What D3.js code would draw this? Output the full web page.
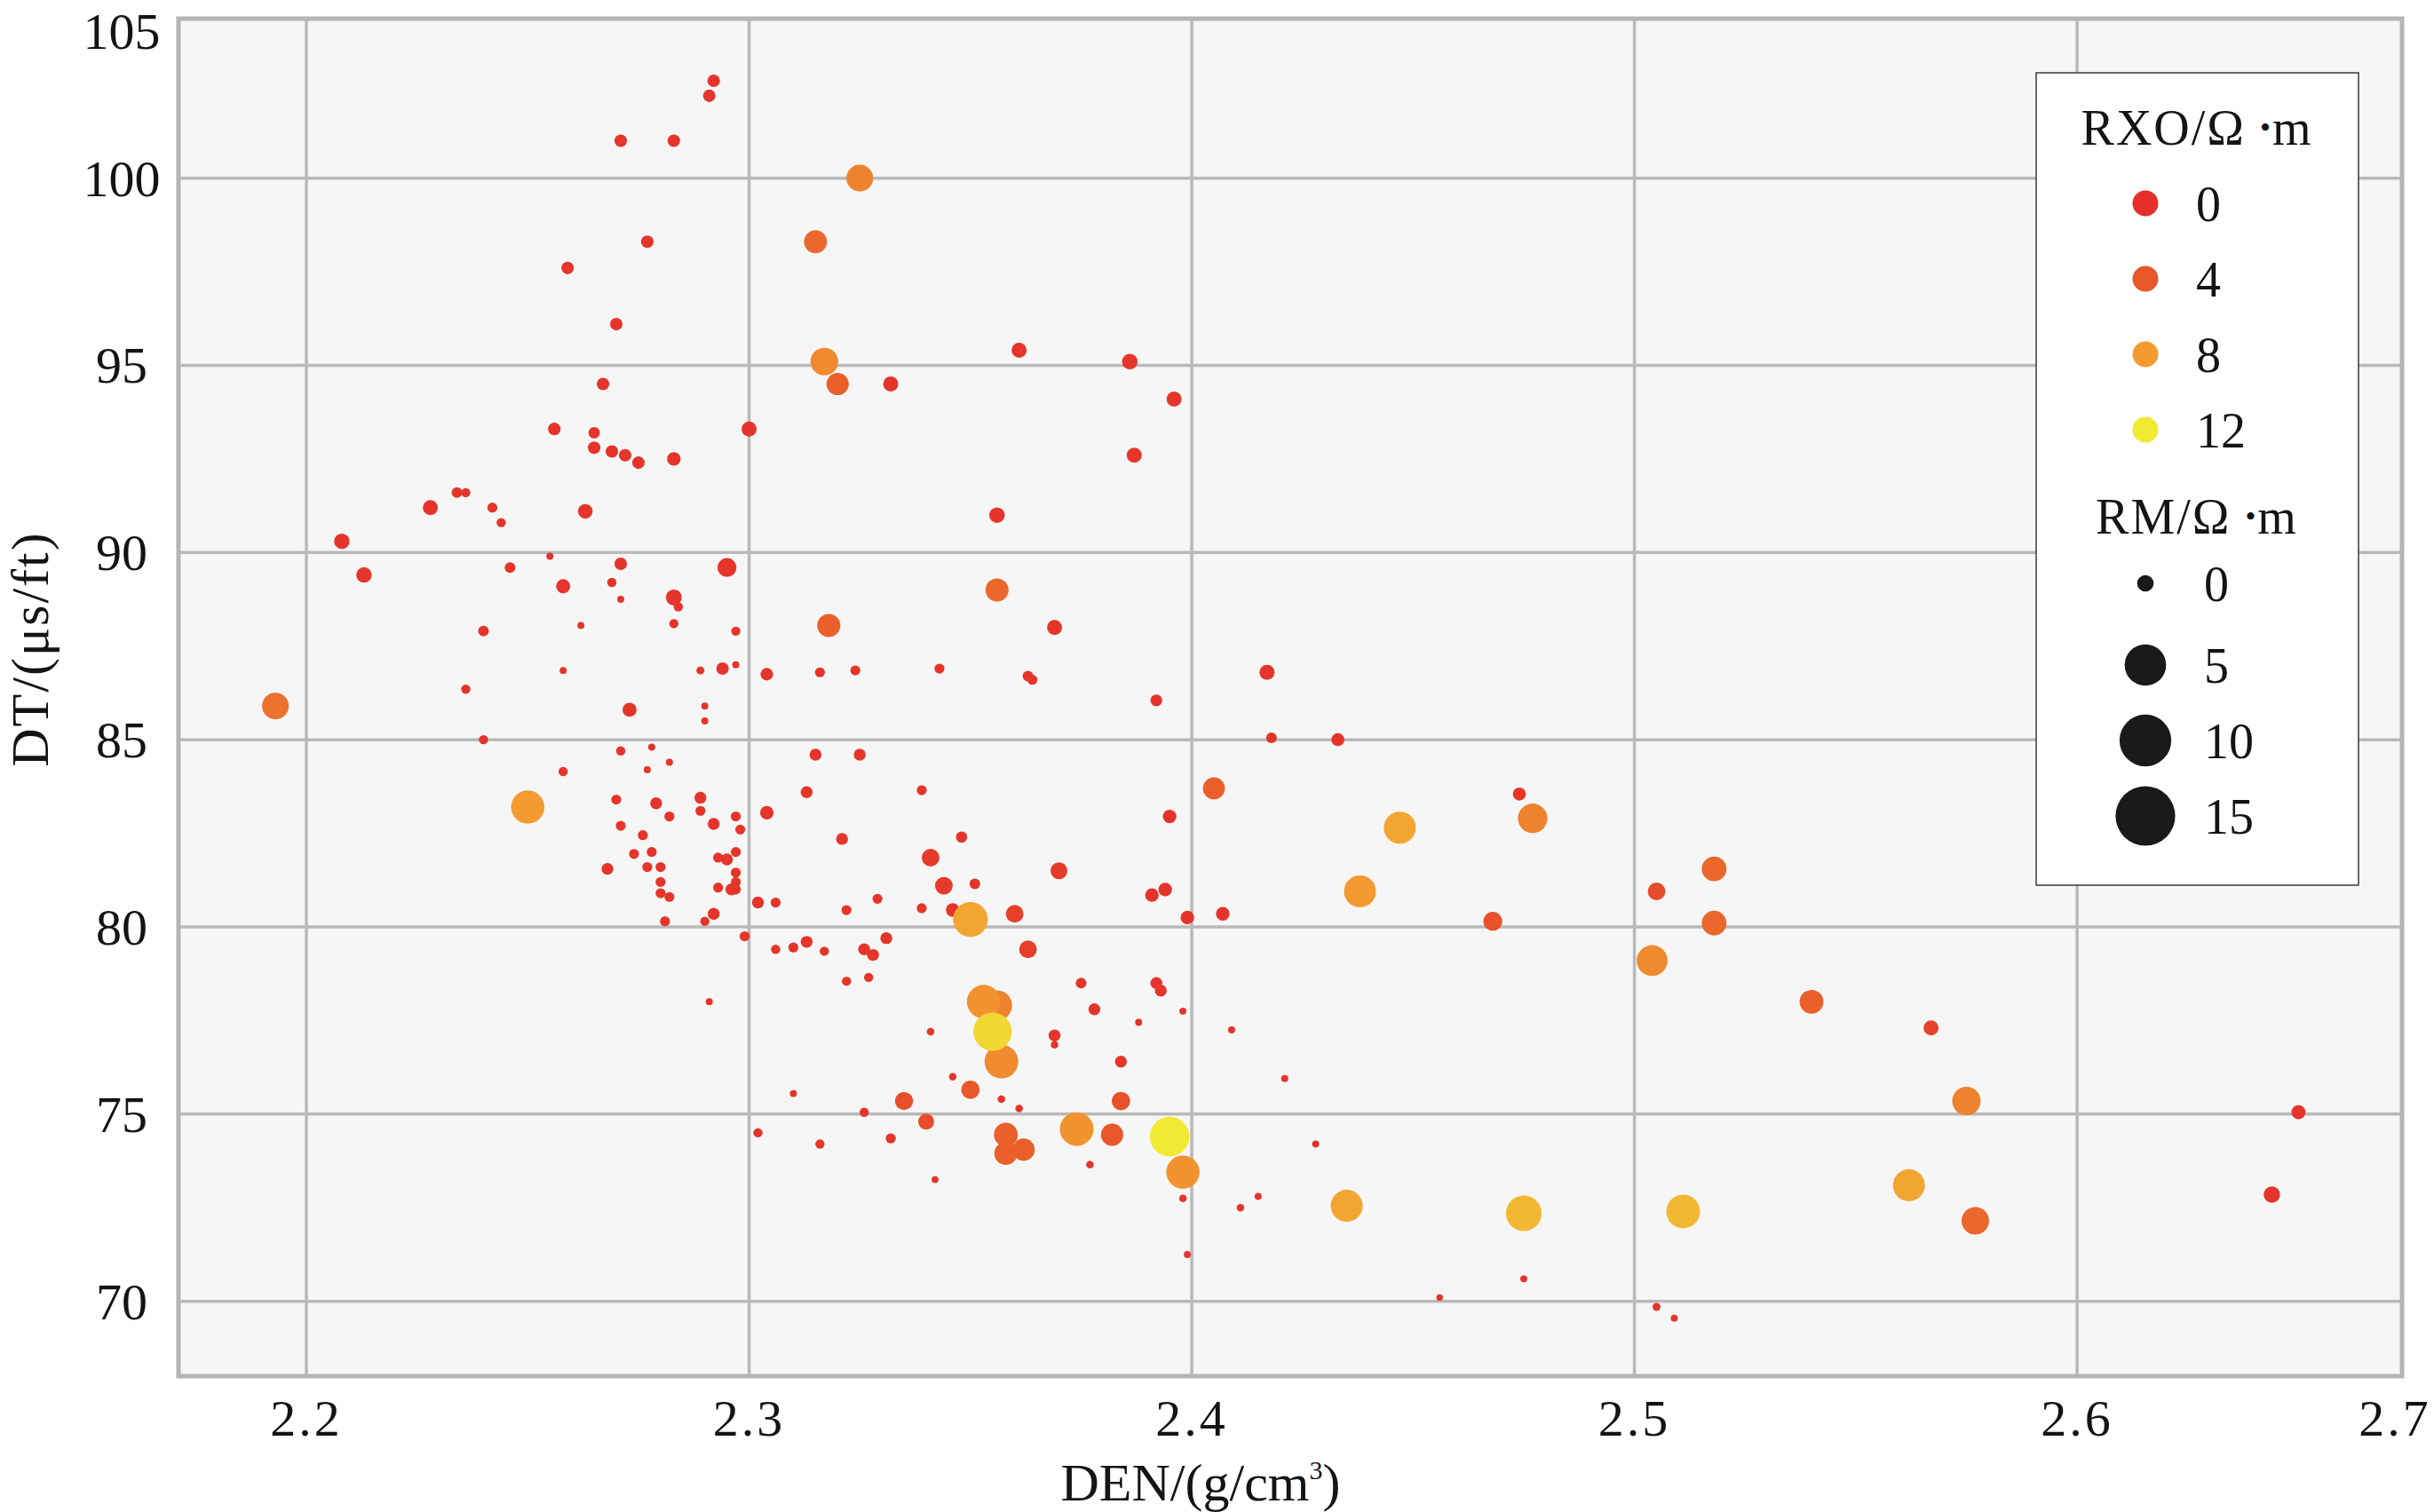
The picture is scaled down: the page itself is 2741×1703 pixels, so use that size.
<!DOCTYPE html>
<html>
<head>
<meta charset="utf-8">
<script src="https://cdn.jsdelivr.net/npm/d3@7"></script>
<style>
body { margin: 0; background: #ffffff; }
svg text { font-family: "Liberation Serif", "Times New Roman", serif; fill: #141414; }
</style>
</head>
<body>
<svg id="chart" width="2741" height="1703"></svg>
<script>
// DEN (g/cm3), DT (us/ft), RXO (ohm.m, colour), RM (ohm.m, size) for each sample
var den = [
  2.292,2.291,2.271,2.283,2.325,2.277,2.315,2.259,2.270,2.317,
  2.320,2.332,2.267,2.256,2.265,2.265,2.269,2.272,2.275,2.283,
  2.300,2.234,2.236,2.228,2.242,2.244,2.263,2.208,2.361,2.386,
  2.396,2.387,2.356,2.356,2.369,2.343,2.363,2.417,2.255,2.271,
  2.295,2.213,2.246,2.258,2.269,2.271,2.283,2.284,2.283,2.240,
  2.262,2.297,2.258,2.289,2.294,2.297,2.304,2.236,2.193,2.273,
  2.290,2.290,2.240,2.271,2.278,2.282,2.277,2.258,2.270,2.279,
  2.289,2.289,2.282,2.292,2.297,2.298,2.304,2.271,2.276,2.274,
  2.278,2.277,2.280,2.268,2.293,2.295,2.297,2.297,2.280,2.280,
  2.282,2.293,2.296,2.297,2.297,2.302,2.306,2.292,2.290,2.281,
  2.299,2.306,2.310,2.250,2.291,2.322,2.327,2.353,2.356,2.355,
  2.357,2.375,2.392,2.393,2.378,2.398,2.388,2.409,2.341,2.369,
  2.369,2.384,2.346,2.350,2.310,2.335,2.357,2.361,2.384,2.326,
  2.340,2.302,2.316,2.332,2.358,2.358,2.362,2.374,2.382,2.395,
  2.398,2.377,2.342,2.398,2.411,2.399,2.350,2.346,2.360,2.363,
  2.370,2.348,2.341,2.344,2.351,2.339,2.339,2.364,
  2.324,2.316,2.392,2.315,2.325,2.313,2.321,2.405,2.395,2.391,2.394,
  2.399,2.407,2.329,2.322,2.313,2.317,2.326,2.328,2.331,2.318,
  2.433,2.474,2.477,2.447,2.438,2.468,2.505,2.518,2.518,2.504,
  2.540,2.567,2.575,2.650,2.644,2.562,2.577,2.511,2.475,2.435,
  2.475,2.456,2.505,2.509,2.418,2.421,2.428,2.415
];
var dt = [
  102.6,102.2,101.0,101.0,100.0,98.3,98.3,97.6,96.1,95.1,
  94.5,94.5,94.5,93.3,93.2,92.8,92.7,92.6,92.4,92.5,
  93.3,91.6,91.6,91.2,91.2,90.8,91.1,90.3,95.4,95.1,
  94.1,92.6,91.0,89.0,88.0,86.9,86.7,86.8,89.9,89.7,
  89.6,89.4,89.6,89.1,89.2,88.75,88.8,88.55,88.1,87.9,
  88.05,87.9,86.85,86.85,86.9,87.0,86.75,86.35,85.9,85.8,
  85.9,85.5,85.0,84.7,84.8,84.4,84.2,84.15,83.4,83.3,
  83.45,83.1,82.95,82.75,82.95,82.6,83.05,82.7,82.45,81.95,
  82.0,81.6,81.6,81.55,81.85,81.8,82.0,81.45,81.2,80.9,
  80.8,81.05,81.0,81.2,81.0,80.65,80.65,80.35,80.15,80.15,
  79.75,79.4,79.45,83.2,78.0,78.55,78.65,78.0,77.9,77.2,
  76.4,78.5,78.5,78.3,77.8,77.75,77.45,77.25,77.2,77.1,
  76.85,76.4,76.0,75.65,75.55,75.35,75.4,75.15,75.35,75.05,
  74.8,74.5,74.2,74.35,74.45,73.95,74.05,74.6,74.45,74.4,
  73.45,73.65,73.25,72.75,72.5,71.25,80.2,80.45,80.35,79.4,
  81.5,82.4,81.85,81.1,81.15,80.5,83.65,86.6,
  86.85,86.8,86.05,84.6,84.6,83.6,82.35,83.7,82.95,80.85,81.0,
  80.25,80.35,80.75,80.45,79.6,79.35,79.4,79.25,79.7,88.05,
  85.0,83.55,82.9,82.65,80.95,80.15,80.95,81.55,80.1,79.1,
  78.0,77.3,75.35,75.05,72.85,73.1,72.15,72.4,72.35,72.55,
  70.6,70.1,69.85,69.55,85.05,75.95,74.2,72.8
];
var rxo = [
  0.5,0.5,0.5,0.5,6.5,0.5,5,0.5,0.5,7,
  4.5,0.5,0.5,0.5,0.5,0.5,0.5,0.5,0.5,0.5,
  0.5,0.5,0.5,0.5,0.5,0.5,0.5,0.5,0.5,0.5,
  0.5,0.5,0.5,5,0.5,0.5,0.5,0.5,0.5,0.5,
  0.5,0.5,0.5,0.5,0.5,0.5,0.5,0.5,0.5,0.5,
  0.5,0.5,0.5,0.5,0.5,0.5,0.5,0.5,5.5,0.5,
  0.5,0.5,0.5,0.5,0.5,0.5,0.5,0.5,0.5,0.5,
  0.5,0.5,0.5,0.5,0.5,0.5,0.5,0.5,0.5,0.5,
  0.5,0.5,0.5,0.5,0.5,0.5,0.5,0.5,0.5,0.5,
  0.5,0.5,0.5,0.5,0.5,0.5,0.5,0.5,0.5,0.5,
  0.5,0.5,0.5,8,0.5,0.5,0.5,7.5,6.5,11,
  7,0.5,0.5,0.5,0.5,0.5,0.5,0.5,0.5,0.5,
  0.5,0.5,0.5,4,0.5,3,0.5,0.5,3.5,0.5,
  3,0.5,0.5,0.5,4.5,4.5,4.5,7.5,4,12,
  7.5,0.5,0.5,0.5,0.5,0.5,8.5,0.5,1.5,1.5,
  1,0.5,1,1,0.5,0.5,0.5,0.5,
  0.5,0.5,0.5,0.5,0.5,0.5,0.5,4.5,0.5,0.5,0.5,
  0.5,0.5,0.5,0.5,0.5,0.5,0.5,0.5,0.5,4.5,
  0.5,0.5,6.5,8.5,8,3.5,3,5,5,7,
  4.5,2,6.5,0.5,0.5,8.5,5,9.5,9.5,8.5,
  0.5,0.5,0.5,0.5,0.5,0.5,0.5,0.5
];
var rm = [
  1.1,1.1,1.1,1.1,5.0,1.1,3.75,1.1,1.1,5.4,
  3.5,1.6,1.1,1.1,0.9,1.1,1.1,1.1,1.1,1.3,
  1.6,0.8,0.6,1.6,0.7,0.6,1.5,1.7,1.6,1.7,
  1.6,1.6,1.7,3.75,1.6,0.7,0.8,1.6,0.35,1.1,
  2.5,1.7,0.8,1.4,0.6,0.35,1.8,0.6,0.6,0.8,
  0.35,0.6,0.35,0.45,1.1,0.35,1.1,0.6,5.0,1.4,
  0.35,0.35,0.6,0.6,0.35,0.35,0.35,0.6,0.7,1.0,
  1.0,0.7,0.7,1.0,0.7,0.7,1.3,0.7,0.7,0.7,
  0.7,0.7,0.7,1.0,0.7,1.0,0.7,0.7,0.7,0.7,
  0.7,0.7,1.0,0.7,0.7,1.0,0.7,1.0,0.6,0.7,
  0.7,0.6,0.7,7.8,0.35,0.6,0.6,8.0,6.4,10.4,
  8.0,0.8,1.0,1.0,1.0,0.35,0.35,0.35,0.4,1.0,
  0.4,1.0,0.4,2.4,0.35,2.3,0.4,0.4,2.4,0.6,
  1.8,0.6,0.6,0.7,4.0,3.75,3.5,8.0,3.5,11.0,
  7.8,0.4,0.35,0.4,0.4,0.35,8.5,1.3,2.2,2.2,
  2.0,0.9,2.2,2.2,0.8,0.7,0.7,0.7,
  0.7,0.7,1.0,1.0,1.0,1.0,1.0,3.4,1.3,1.3,1.3,
  1.3,1.3,0.7,0.7,1.0,0.6,1.0,1.0,1.0,3.75,
  1.2,1.2,6.1,7.2,7.2,2.5,2.2,4.3,4.3,6.7,
  4.0,1.6,5.7,1.4,1.9,7.2,5.3,8.0,8.9,7.2,
  0.35,0.3,0.45,0.35,0.8,0.35,0.35,0.35
];

var xTicks = [2.2, 2.3, 2.4, 2.5, 2.6, 2.7];
var yTicks = [70, 75, 80, 85, 90, 95, 100, 105];
var rxoLegend = [0, 4, 8, 12];
var rmLegend = [0, 5, 10, 15];
var rxoColors = ["#e5302a", "#e8572a", "#f39b31", "#f2e933"];

var plotLeft = 201, plotRight = 2705, plotTop = 21, plotBottom = 1550;

var x = d3.scaleLinear().domain([2.1711, 2.6734]).range([plotLeft, plotRight]);
var y = d3.scaleLinear().domain([68.0, 104.26]).range([plotBottom, plotTop]);
// last tick labels sit on the frame edge (kept inside the page)
function xLab(v) { return Math.min(x(v), plotRight - 8); }
function yLab(v) { return Math.max(y(v), plotTop + 14); }

var color = d3.scaleLinear().domain(rxoLegend).range(rxoColors);
var rScale = d3.scaleSqrt().domain([0, 15]).range([0, 26]);
var legendR = d3.scalePow().exponent(0.5).domain([0, 15]).range([9.3, 33.6]);

var svg = d3.select("#chart");

svg.append("rect")
  .attr("x", plotLeft).attr("y", plotTop)
  .attr("width", plotRight - plotLeft).attr("height", plotBottom - plotTop)
  .attr("fill", "#f7f6f6");

// grid
var xIn = xTicks.filter(function(v){ return v > x.domain()[0] && v < x.domain()[1]; });
var yIn = yTicks.filter(function(v){ return v > y.domain()[0] && v < y.domain()[1]; });

svg.append("g").selectAll("line").data(xIn).enter().append("line")
  .attr("x1", function(d){ return x(d); }).attr("x2", function(d){ return x(d); })
  .attr("y1", plotTop).attr("y2", plotBottom)
  .attr("stroke", "#b9b9b9").attr("stroke-width", 3.5);

svg.append("g").selectAll("line").data(yIn).enter().append("line")
  .attr("y1", function(d){ return y(d); }).attr("y2", function(d){ return y(d); })
  .attr("x1", plotLeft).attr("x2", plotRight)
  .attr("stroke", "#b9b9b9").attr("stroke-width", 3.5);

svg.append("rect")
  .attr("x", plotLeft).attr("y", plotTop)
  .attr("width", plotRight - plotLeft).attr("height", plotBottom - plotTop)
  .attr("fill", "none").attr("stroke", "#b5b5b5").attr("stroke-width", 5);

// points, small ones first
var idx = d3.range(den.length).sort(function(a, b){ return rm[a] - rm[b]; });
svg.append("g").selectAll("circle").data(idx).enter().append("circle")
  .attr("cx", function(i){ return x(den[i]); })
  .attr("cy", function(i){ return y(dt[i]); })
  .attr("r", function(i){ return rScale(rm[i]); })
  .attr("fill", function(i){ return color(rxo[i]); });

// tick labels
svg.append("g").selectAll("text").data(xTicks).enter().append("text")
  .attr("x", function(d){ return xLab(d); })
  .attr("y", 1617)
  .attr("text-anchor", "middle")
  .attr("font-size", 58)
  .attr("letter-spacing", 3)
  .text(function(d){ return d3.format(".1f")(d); });

svg.append("g").selectAll("text").data(yTicks).enter().append("text")
  .attr("x", 137)
  .attr("y", function(d){ return yLab(d) + 20; })
  .attr("text-anchor", "middle")
  .attr("font-size", 58)
  .text(function(d){ return d; });

// axis titles
var xt = svg.append("text")
  .attr("x", 1352).attr("y", 1690)
  .attr("text-anchor", "middle")
  .attr("font-size", 60);
xt.append("tspan").text("DEN/(g/cm");
xt.append("tspan").attr("font-size", 30).attr("dy", -24).text("3");
xt.append("tspan").attr("dy", 24).text(")");

svg.append("text")
  .attr("transform", "translate(54,731) rotate(-90)")
  .attr("text-anchor", "middle")
  .attr("font-size", 60)
  .attr("letter-spacing", 2)
  .text("DT/(μs/ft)");

// legend
var lg = svg.append("g");
lg.append("rect")
  .attr("x", 2293).attr("y", 82).attr("width", 363).attr("height", 915)
  .attr("fill", "#ffffff").attr("stroke", "#3a3a3a").attr("stroke-width", 1.5);

function legendTitle(name, yy) {
  var t = lg.append("text")
    .attr("x", 2474).attr("y", yy)
    .attr("text-anchor", "middle")
    .attr("font-size", 56)
    .attr("letter-spacing", 2);
  t.append("tspan").text(name + "/Ω ");
  t.append("tspan").attr("font-size", 34).attr("dy", -8).text("•");
  t.append("tspan").attr("dy", 8).text("m");
}

legendTitle("RXO", 163);
lg.selectAll(".cItem").data(rxoLegend).enter().append("circle")
  .attr("cx", 2416)
  .attr("cy", function(d, i){ return 229 + i * 85; })
  .attr("r", 14.5)
  .attr("fill", function(d){ return color(d); });
lg.selectAll(".cLab").data(rxoLegend).enter().append("text")
  .attr("x", 2473)
  .attr("y", function(d, i){ return 229 + i * 85 + 20; })
  .attr("font-size", 56)
  .text(function(d){ return d; });

legendTitle("RM", 601);
function sizeRowY(i) { return i === 0 ? 657 : 749 + (i - 1) * 85; }
lg.selectAll(".sItem").data(rmLegend).enter().append("circle")
  .attr("cx", 2416)
  .attr("cy", function(d, i){ return sizeRowY(i); })
  .attr("r", function(d){ return legendR(d); })
  .attr("fill", "#1a1a1a");
lg.selectAll(".sLab").data(rmLegend).enter().append("text")
  .attr("x", 2482)
  .attr("y", function(d, i){ return sizeRowY(i) + 20; })
  .attr("font-size", 56)
  .text(function(d){ return d; });
</script>
</body>
</html>
